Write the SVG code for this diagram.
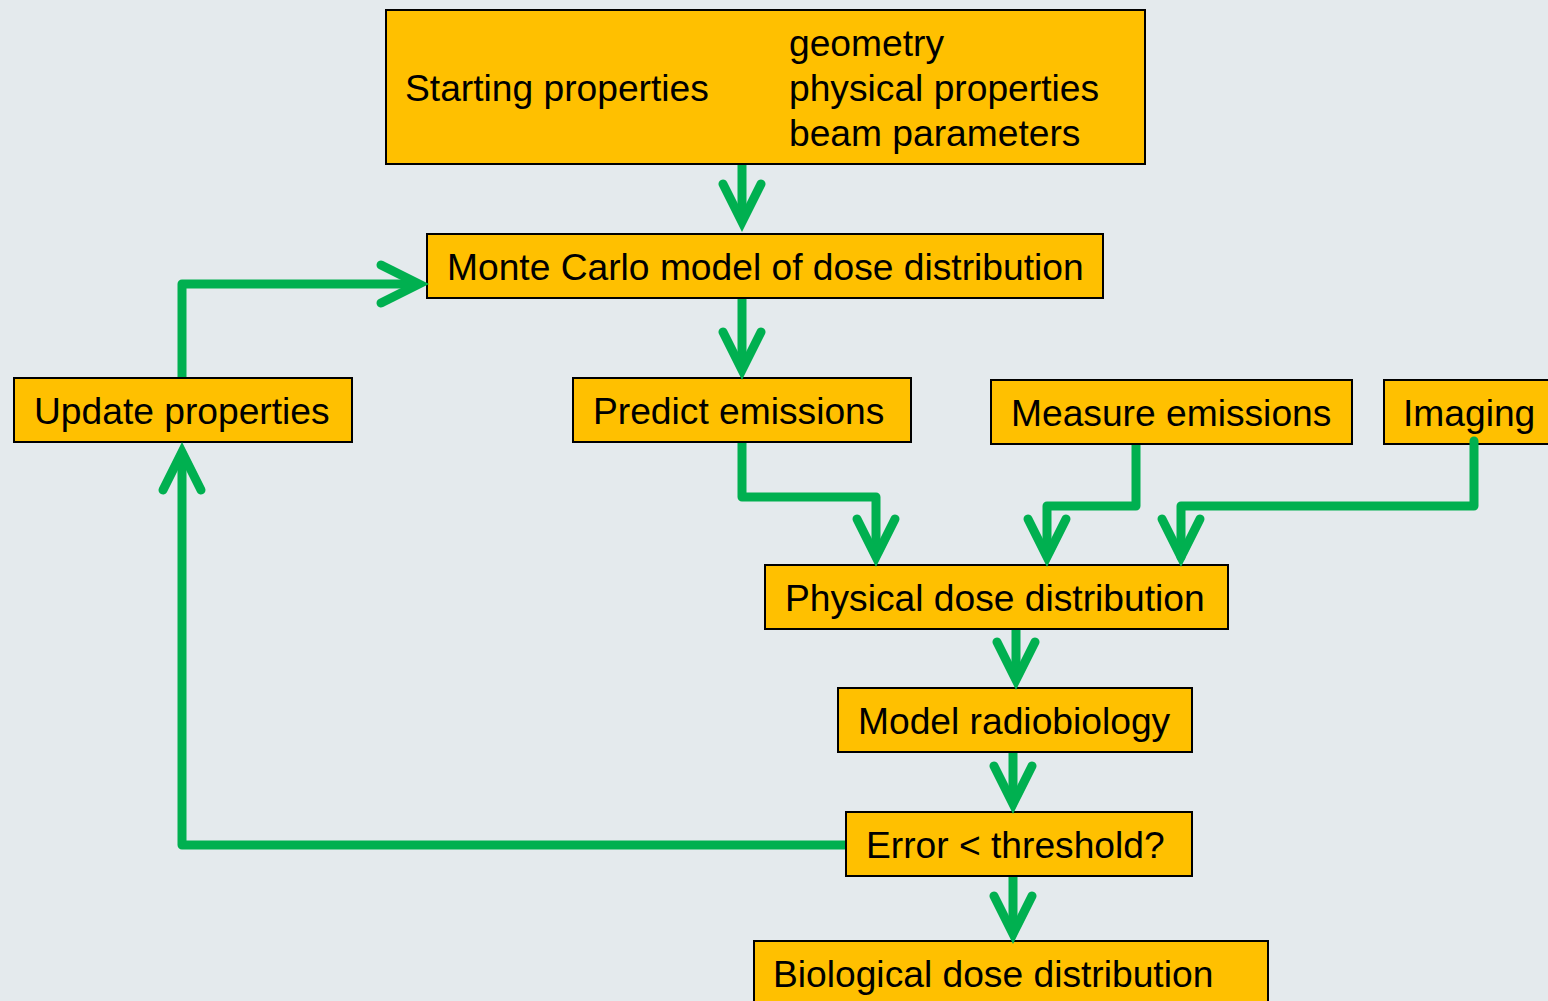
<svg xmlns="http://www.w3.org/2000/svg" width="1548" height="1001" viewBox="0 0 1548 1001">
  <style>
    .box { fill: #FFC000; stroke: #000000; stroke-width: 2; }
    .lbl { font-family: "Liberation Sans", Arial, sans-serif; font-size: 37.2px; fill: #000000; }
    .flow { fill: none; stroke: #00B050; stroke-width: 9; stroke-linejoin: round; stroke-linecap: butt; marker-end: url(#chev); }
  </style>
  <defs>
    <!-- open chevron arrowhead with rounded arm ends -->
    <marker id="chev" markerUnits="userSpaceOnUse" viewBox="-50 -30 60 60" markerWidth="60" markerHeight="60" refX="0" refY="0" orient="auto" overflow="visible">
      <path d="M-38,-19 L0,0 L-38,19" fill="none" stroke="#00B050" stroke-width="9" stroke-linecap="round" stroke-linejoin="miter" stroke-miterlimit="10"/>
    </marker>
  </defs>

  <rect width="1548" height="1001" fill="#E4EAED"/>

  <g id="nodes">
    <g id="start">
      <rect class="box" x="386" y="10" width="759" height="154"/>
      <text class="lbl" x="405" y="101">Starting properties</text>
      <text class="lbl" x="789" y="56">geometry</text>
      <text class="lbl" x="789" y="101">physical properties</text>
      <text class="lbl" x="789" y="145.5">beam parameters</text>
    </g>
    <g id="montecarlo">
      <rect class="box" x="427" y="234" width="676" height="64"/>
      <text class="lbl" x="447" y="280">Monte Carlo model of dose distribution</text>
    </g>
    <g id="update">
      <rect class="box" x="14" y="378" width="338" height="64"/>
      <text class="lbl" x="34" y="424">Update properties</text>
    </g>
    <g id="predict">
      <rect class="box" x="573" y="378" width="338" height="64"/>
      <text class="lbl" x="593" y="424">Predict emissions</text>
    </g>
    <g id="measure">
      <rect class="box" x="991" y="380" width="361" height="64"/>
      <text class="lbl" x="1011" y="426">Measure emissions</text>
    </g>
    <g id="imaging">
      <rect class="box" x="1384" y="380" width="180" height="64"/>
      <text class="lbl" x="1403" y="426">Imaging</text>
    </g>
    <g id="physical">
      <rect class="box" x="765" y="565" width="463" height="64"/>
      <text class="lbl" x="785" y="611">Physical dose distribution</text>
    </g>
    <g id="radiobiology">
      <rect class="box" x="838" y="688" width="354" height="64"/>
      <text class="lbl" x="858" y="734">Model radiobiology</text>
    </g>
    <g id="error">
      <rect class="box" x="846" y="812" width="346" height="64"/>
      <text class="lbl" x="866" y="858">Error &lt; threshold?</text>
    </g>
    <g id="biological">
      <rect class="box" x="754" y="941" width="514" height="70"/>
      <text class="lbl" x="773" y="987">Biological dose distribution</text>
    </g>
  </g>

  <g id="connectors">
    <path class="flow" d="M742,165 L742,222"/>
    <path class="flow" d="M742,299 L742,370"/>
    <path class="flow" d="M182,377 L182,284 L419,284"/>
    <path class="flow" d="M845,845 L182,845 L182,452"/>
    <path class="flow" d="M742,443 L742,497 L876,497 L876,557"/>
    <path class="flow" d="M1136,445 L1136,506 L1047,506 L1047,557"/>
    <path class="flow" d="M1474,441 L1474,506 L1181,506 L1181,557" style="stroke-linecap: round"/>
    <path class="flow" d="M1016,630 L1016,680"/>
    <path class="flow" d="M1013,753 L1013,804"/>
    <path class="flow" d="M1013,877 L1013,934"/>
  </g>
</svg>
